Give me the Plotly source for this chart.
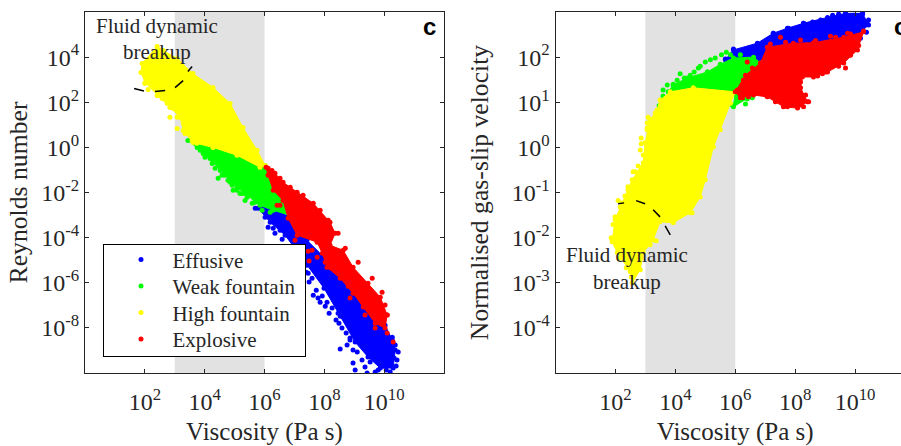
import plotly.graph_objects as go

# All values are log10 of the plotted quantity.
# "body" = outline of the solid part of a cloud, "pts" = separately visible points.
L_yellow_body_x = [2.41,1.91,1.87,2.01,2.44,2.84,3.18,3.28,3.61,4.28,5.08,5.85,6.02,5.75,5.28,4.85,4.28,3.61,3.08,2.61]
L_yellow_body_y = [4.47,3.72,3.32,2.88,2.30,1.77,1.33,.75,.22,0,-.35,-.88,-.80,-.13,.88,1.95,2.65,3.27,3.94,4.29]
L_yellow_pts_x = [2.0,2.11,2.41,2.58,2.75,2.95,2.84,3.08,3.08,3.34,3.58,3.74]
L_yellow_pts_y = [2.83,2.57,2.30,2.17,1.95,1.73,1.33,1.33,.84,.62,.31,.18]

L_green_body_x = [3.44,3.85,4.28,4.68,5.08,5.42,5.85,6.29,6.86,6.92,6.52,6.25,6.02,5.52,4.52,3.68]
L_green_body_y = [.31,-.13,-.66,-1.24,-1.77,-2.12,-2.57,-2.79,-3.01,-2.57,-1.90,-1.37,-.80,-.35,.09,.40]
L_green_pts_x = [3.95,4.25,4.52,4.78,5.08,5.42,4.18,4.92,5.28,5.69,5.42,5.69,3.75,4.01,4.11,4.35,4.58,4.45,4.85,4.95,5.18,5.35,5.59,5.92,6.19]
L_green_pts_y = [-.27,-.71,-1.02,-1.46,-1.90,-2.21,-.49,-1.68,-2.04,-2.35,-1.99,-2.43,0,-.44,-.13,-.93,-1.24,-1.37,-1.55,-1.90,-2.04,-2.35,-2.48,-2.79,-2.88]

L_blue_body_x = [5.79,6.19,6.69,7.42,7.99,8.53,9.03,9.46,9.87,10.30,10.37,10.27,10.03,9.60,9.20,8.76,8.19,7.42,6.86,6.09]
L_blue_body_y = [-2.70,-3.32,-3.89,-5.22,-6.24,-7.48,-8.63,-9.29,-9.78,-9.78,-8.98,-8.54,-7.88,-7.43,-6.64,-6.02,-5.13,-4.12,-3.10,-2.57]
L_blue_pts_x = [5.69,6.02,6.12,6.35,6.59,7.46,7.49,7.63,7.79,7.86,8.09,8.16,8.46,8.49,8.73,8.86,8.96,8.53,8.96,9.03,9.36,9.43,9.70,10.07,10.40,10.33,10.27,7.19,7.39,7.59,7.73,7.93,8.03,8.26,8.39,8.59,8.86,8.76,9.10,9.26,9.53,9.80,9.97,10.2,10.43,10.47,10.37,6.29,6.52]
L_blue_pts_y = [-2.70,-3.10,-3.54,-3.81,-4.07,-5.58,-5.97,-6.55,-6.68,-6.86,-6.86,-7.35,-7.35,-7.79,-8.23,-8.45,-8.98,-8.94,-9.56,-9.87,-9.73,-10,-9.96,-9.87,-9.69,-9.34,-8.41,-5.09,-5.53,-5.80,-6.33,-6.59,-7.04,-7.12,-7.65,-8.01,-8.54,-8.76,-9.07,-9.42,-9.51,-9.87,-9.69,-9.96,-9.42,-9.07,-8.76,-3.58,-3.67]

L_red_body_x = [6.05,6.35,6.62,7.09,7.63,8.19,8.36,8.19,8.63,8.96,9.46,9.87,10.10,10.03,9.70,9.30,8.96,8.53,8.09,7.93,7.76,7.09,6.79,6.62,6.29,6.12]
L_red_body_y = [-.88,-1.15,-1.55,-1.99,-2.48,-3.32,-3.81,-4.34,-4.56,-5.31,-6.02,-6.64,-7.43,-8.01,-7.79,-7.08,-6.46,-5.80,-5.31,-4.69,-4.20,-3.89,-3.14,-2.35,-1.90,-1.24]
L_red_pts_x = [8.46,10.30,10.10,10.10,7.76,7.49,7.46,6.42,6.12,8.80,8.19,6.25,6.52,6.86,7.29,7.86,8.13,8.70,9.13,9.60,9.93,10.03,9.70,9.36,8.86,8.03,7.59,7.02,6.52]
L_red_pts_y = [-3.81,-8.63,-8.23,-7.43,-4.87,-5.04,-4.60,-2.57,-.93,-6.15,-5.31,-1.02,-1.37,-1.77,-2.12,-2.79,-3.23,-4.47,-5.09,-5.80,-6.42,-6.99,-8.01,-7.43,-6.68,-5.09,-4.56,-4.12,-2.57]

R_yellow_body_x = [3.49,3.83,4.60,6.00,5.84,5.50,5.27,5.00,4.83,4.50,3.93,3.49,3.26,2.93,2.83,2.56,2.49,2.06,1.89,1.99,2.22,2.56,2.93,2.99,3.16,3.39]
R_yellow_body_y = [1.05,1.23,1.32,1.23,.98,.39,.01,-.72,-1.10,-1.45,-1.67,-1.65,-2.05,-2.33,-2.71,-3.00,-2.75,-2.33,-2.09,-1.60,-1.23,-.72,-.34,.10,.61,.83]
R_yellow_pts_x = [2.09,2.32,2.42,2.59,2.76,2.86,2.86,3.06,3.06,3.36,1.99,4.56,3.09,3.33,3.06,3.56,2.83,2.93,2.66,2.42,2.16,1.92,1.86,2.16,2.36,2.53,2.69,2.86,3.16]
R_yellow_pts_y = [-1.18,-1.08,-.87,-.54,-.41,.21,.08,.54,.39,-2.07,-1.54,-1.45,.67,.76,.43,.94,-.06,-.17,-.54,-.94,-1.32,-1.71,-2.0,-2.45,-2.67,-2.87,-2.67,-2.45,-2.16]

R_green_body_x = [3.76,3.93,4.40,5.07,5.50,5.94,6.61,6.84,6.61,6.50,5.94,6.00,4.60]
R_green_body_y = [1.23,1.38,1.54,1.67,1.84,1.98,2.00,1.87,1.49,1.12,.90,1.23,1.32]
R_green_pts_x = [5.17,5.54,4.63,4.77,4.30,3.93,3.59,3.46,5.90,6.40,5.07,4.50,6.17,5.84,3.59,3.73,4.06,4.16,4.83,5.0,5.33,5.70,6.10,6.34,6.57]
R_green_pts_y = [1.94,2.05,1.67,1.76,1.54,1.40,1.14,.92,.94,1.07,1.67,1.60,2.05,2.05,1.27,1.38,1.49,1.63,1.80,1.89,1.98,2.11,1.05,.96,1.10]

R_blue_body_x = [5.67,5.94,6.74,7.27,7.74,8.28,9.08,9.68,10.25,10.45,10.08,9.08,7.94,6.84]
R_blue_body_y = [1.94,2.16,2.31,2.53,2.64,2.75,2.88,2.97,2.97,2.71,2.49,2.16,1.94,1.94]
R_blue_pts_x = [9.68,10.25,10.42,7.27,7.78,8.28,8.58,9.25,6.74,5.94,5.67,10.18,7.0,7.51,8.01,8.45,8.85,9.45,9.95,10.45,10.38,6.51,6.17]
R_blue_pts_y = [3.02,2.95,2.73,2.53,2.64,2.75,2.78,2.93,2.29,2.18,1.96,2.42,2.26,2.42,2.60,2.73,2.82,2.95,2.93,2.82,2.55,2.20,2.11]

R_red_body_x = [6.00,6.34,6.84,7.07,7.94,8.61,9.62,10.28,10.08,9.62,9.08,8.61,8.24,8.18,8.41,8.08,7.61,7.07,6.61,6.17]
R_red_body_y = [1.23,1.60,1.87,2.22,2.31,2.32,2.44,2.56,2.16,1.87,1.67,1.56,1.56,1.32,1.01,.87,.90,1.12,1.16,1.10]
R_red_pts_x = [10.28,9.75,9.35,8.18,7.51,9.68,8.91,8.75,8.45,8.28,7.74,6.24,6.40,7.17,7.68,8.68,9.18,9.85,10.12,9.85,9.45,9.01,8.18,8.35,8.18,7.84,7.34,7.01,6.44,6.07,6.27,6.57]
R_red_pts_y = [2.58,2.53,2.44,2.38,2.44,1.76,1.63,1.58,1.01,.90,.90,1.10,1.89,2.29,2.33,2.37,2.46,2.51,2.26,2.04,1.80,1.67,1.45,1.16,.94,.94,1.01,1.16,1.12,1.27,1.49,1.76]

# Dashed "breakup" arcs, dash by dash
L_arc_x = [1.64,1.97,None,2.34,2.68,None,3.01,3.28,None,3.44,3.58]
L_arc_y = [2.61,2.50,None,2.48,2.52,None,2.65,2.96,None,3.36,3.58]
R_arc_x = [2.09,2.29,None,2.69,2.99,None,3.26,3.49,None,3.66,3.83]
R_arc_y = [-1.25,-1.23,None,-1.18,-1.25,None,-1.38,-1.54,None,-1.74,-1.94]

names = ["Effusive", "Weak fountain", "High fountain", "Explosive"]
colors = ["#0000ff", "#00ff00", "#ffff00", "#ff0000"]
x_ticks = [2, 4, 6, 8, 10]
x_ticktext = ["10<sup>2</sup>", "10<sup>4</sup>", "10<sup>6</sup>", "10<sup>8</sup>", "10<sup>10</sup>"]
L_y_ticks = [4, 2, 0, -2, -4, -6, -8]
L_y_ticktext = ["10<sup>4</sup>", "10<sup>2</sup>", "10<sup>0</sup>", "10<sup>-2</sup>", "10<sup>-4</sup>", "10<sup>-6</sup>", "10<sup>-8</sup>"]
R_y_ticks = [2, 1, 0, -1, -2, -3, -4]
R_y_ticktext = ["10<sup>2</sup>", "10<sup>1</sup>", "10<sup>0</sup>", "10<sup>-1</sup>", "10<sup>-2</sup>", "10<sup>-3</sup>", "10<sup>-4</sup>"]

L = [(L_blue_body_x, L_blue_body_y, L_blue_pts_x, L_blue_pts_y),
     (L_green_body_x, L_green_body_y, L_green_pts_x, L_green_pts_y),
     (L_yellow_body_x, L_yellow_body_y, L_yellow_pts_x, L_yellow_pts_y),
     (L_red_body_x, L_red_body_y, L_red_pts_x, L_red_pts_y)]
R = [(R_blue_body_x, R_blue_body_y, R_blue_pts_x, R_blue_pts_y),
     (R_green_body_x, R_green_body_y, R_green_pts_x, R_green_pts_y),
     (R_yellow_body_x, R_yellow_body_y, R_yellow_pts_x, R_yellow_pts_y),
     (R_red_body_x, R_red_body_y, R_red_pts_x, R_red_pts_y)]

def lin(v):
    return [None if a is None else 10.0 ** a for a in v]

fig = go.Figure()
for panel, (series, xa, ya) in enumerate([(L, "x", "y"), (R, "x2", "y2")]):
    for (bx, by, px, py_), name, c in zip(series, names, colors):
        fig.add_trace(go.Scatter(x=lin(bx + bx[:1]), y=lin(by + by[:1]), mode="lines", fill="toself",
                                 fillcolor=c, line=dict(color=c, width=1), xaxis=xa, yaxis=ya,
                                 showlegend=False, hoverinfo="skip"))
        fig.add_trace(go.Scatter(x=lin(px + bx), y=lin(py_ + by), mode="markers", name=name,
                                 marker=dict(color=c, size=5), xaxis=xa, yaxis=ya,
                                 showlegend=panel == 0))
for ax, ay, xa, ya in [(L_arc_x, L_arc_y, "x", "y"), (R_arc_x, R_arc_y, "x2", "y2")]:
    fig.add_trace(go.Scatter(x=lin(ax), y=lin(ay), mode="lines", line=dict(color="black", width=1.5),
                             xaxis=xa, yaxis=ya, showlegend=False, hoverinfo="skip"))

FONT = "Liberation Serif"
INK = "#262626"
axis = dict(type="log", showgrid=False, zeroline=False, showline=True, linecolor=INK, linewidth=1,
            mirror="ticks", ticks="inside", ticklen=4, tickcolor=INK,
            tickfont=dict(family=FONT, size=24, color=INK))
# The reference crops the right panel at the window edge, so the figure runs past it.
W, H = 915, 446
T, B = 11.5, 72.5
title_font = dict(family=FONT, size=25, color=INK)
ytitle_font = dict(family=FONT, size=25.7, color=INK)
note_font = dict(family=FONT, size=21, color=INK)
c_font = dict(family="Liberation Sans", size=24, color="black")

def py(p):
    return (H - B - p) / (H - T - B)

def note(text, px, p, font=note_font, anchor="center"):
    return dict(text=text, x=px / W, y=py(p), xref="paper", yref="paper", showarrow=False,
                xanchor=anchor, yanchor="middle", font=font)

fig.update_layout(
    width=W, height=H, autosize=False, paper_bgcolor="white", plot_bgcolor="white",
    margin=dict(l=0, r=0, t=T, b=B),
    font=dict(family=FONT, color=INK),
    xaxis=dict(axis, domain=[85 / W, 444 / W], range=[0, 12], tickvals=[10.0 ** v for v in x_ticks], ticktext=x_ticktext,
               ticklabelstandoff=7, title=dict(text="Viscosity (Pa s)", font=title_font, standoff=8)),
    yaxis=dict(axis, range=[-10, 6], tickvals=[10.0 ** v for v in L_y_ticks], ticktext=L_y_ticktext,
               title=dict(text="Reynolds number", font=ytitle_font, standoff=6)),
    xaxis2=dict(axis, domain=[555.5 / W, 1], range=[0, 12], tickvals=[10.0 ** v for v in x_ticks], ticktext=x_ticktext, anchor="y2",
                ticklabelstandoff=7, title=dict(text="Viscosity (Pa s)", font=title_font, standoff=8)),
    yaxis2=dict(axis, range=[-5, 3], tickvals=[10.0 ** v for v in R_y_ticks], ticktext=R_y_ticktext, anchor="x2",
                title=dict(text="Normalised gas-slip velocity", font=ytitle_font, standoff=15)),
    legend=dict(x=102.5 / W, xanchor="left", y=py(244), yanchor="top",
                bgcolor="white", bordercolor="black", borderwidth=1, itemwidth=59,
                font=dict(family=FONT, size=21, color=INK), itemclick=False, itemdoubleclick=False),
    shapes=[
        dict(type="rect", xref="x", yref="paper", x0=1e3, x1=1e6, y0=0, y1=1, fillcolor="#e2e2e2", line_width=0, layer="below"),
        dict(type="rect", xref="x2", yref="paper", x0=1e3, x1=1e6, y0=0, y1=1, fillcolor="#e2e2e2", line_width=0, layer="below"),
    ],
    annotations=[
        note("Fluid dynamic", 157, 26), note("breakup", 157, 52),
        note("Fluid dynamic", 627, 255), note("breakup", 627, 282),
        note("<b>c</b>", 429, 26, c_font), note("<b>c</b>", 892, 26, c_font, "left"),
    ],
)

# Tighten the legend rows to the reference's spacing; Plotly ties row height to font size.
post = """
document.body.style.margin='0';
document.body.style.overflow='hidden';
var rows=document.querySelectorAll('.legend .traces');
var m=/translate\\(([^,]+),\\s*([^)]+)\\)/.exec(rows[0].getAttribute('transform'));
var x0=parseFloat(m[1]), y0=parseFloat(m[2])-5.5;
rows.forEach(function(r,i){r.setAttribute('transform','translate('+x0+','+(y0+i*26.5)+')');});
document.querySelectorAll('.legend .legendsymbols').forEach(function(s){s.setAttribute('transform','translate(3,0)');});
var bg=document.querySelector('.legend .bg');
bg.setAttribute('height','112');
bg.setAttribute('width',String(parseFloat(bg.getAttribute('width'))+3));
"""
fig.write_html("out.html", config=dict(displayModeBar=False), post_script=post)
